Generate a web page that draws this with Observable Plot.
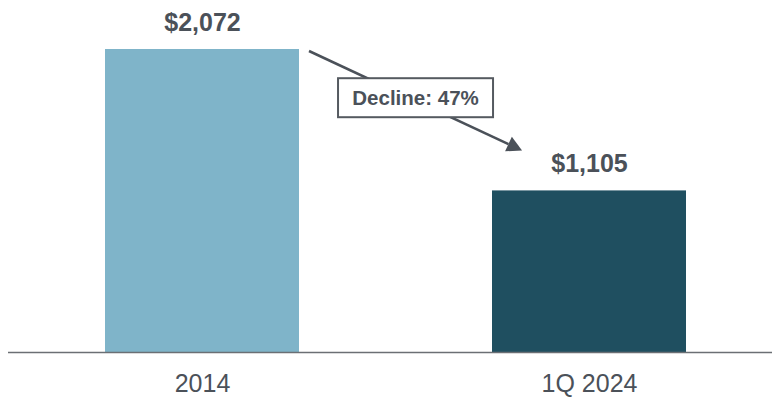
<!DOCTYPE html>
<html>
<head>
<meta charset="utf-8">
<script src="https://cdn.jsdelivr.net/npm/d3@7"></script>
<script src="https://cdn.jsdelivr.net/npm/@observablehq/plot@0.6"></script>
<style>
  html, body { margin: 0; padding: 0; background: #fff; }
  #chart svg { display: block; }
</style>
</head>
<body>
<div id="chart"></div>
<script>
const categories = ["2014", "1Q 2024"];
const values = [2072, 1105];
const valueLabels = ["$2,072", "$1,105"];
const barColors = ["#7fb4c9", "#1f4f60"];
const declineLabel = "Decline: 47%";

const data = categories.map((c, i) => ({category: c, value: values[i], label: valueLabels[i], color: barColors[i]}));

const textColor = "#4b5159";
const font = "'Liberation Sans', Arial, sans-serif";

function declineArrow(index, scales) {
  const desc = scales.scales && scales.scales.x;
  let bw = desc && typeof desc.bandwidth === "number" ? desc.bandwidth
         : (typeof scales.x.bandwidth === "function" ? scales.x.bandwidth() : scales.x.bandwidth);
  const x0 = scales.x(categories[0]);
  const x1 = scales.x(categories[1]);
  const xa = x0 + bw + 10;
  const ya = scales.y(values[0]) + 2;
  const xb = x1 + bw * 0.155;
  const yb = scales.y(values[1]) - 40;
  const g = d3.create("svg:g");
  const ang = Math.atan2(yb - ya, xb - xa);
  const headLen = 15, headW = 8;
  const bx = xb - headLen * Math.cos(ang), by = yb - headLen * Math.sin(ang);
  g.append("line")
    .attr("x1", xa).attr("y1", ya).attr("x2", bx).attr("y2", by)
    .attr("stroke", textColor).attr("stroke-width", 2.5);
  const px = -Math.sin(ang), py = Math.cos(ang);
  g.append("path")
    .attr("d", `M${xb},${yb}L${bx + px * headW},${by + py * headW}L${bx - px * headW},${by - py * headW}Z`)
    .attr("fill", textColor);
  const mx = (xa + xb) / 2, my = (ya + yb) / 2 - 3;
  const w = 155, h = 39;
  g.append("rect")
    .attr("x", mx - w / 2).attr("y", my - h / 2).attr("width", w).attr("height", h)
    .attr("fill", "#fff").attr("stroke", "#555a60").attr("stroke-width", 2);
  g.append("text")
    .attr("x", mx).attr("y", my).attr("dy", "0.36em")
    .attr("text-anchor", "middle")
    .attr("font-family", font).attr("font-weight", "bold").attr("font-size", 20.5)
    .attr("fill", textColor)
    .text(declineLabel);
  return g.node();
}

const chart = Plot.plot({
  width: 772,
  height: 400,
  marginLeft: 8,
  marginRight: 0,
  marginTop: 49,
  marginBottom: 48,
  style: {fontFamily: font, background: "#fff"},
  x: {domain: categories, range: [8, 782], paddingInner: 0.5, paddingOuter: 0.25, label: null},
  y: {domain: [0, values[0]], axis: null},
  marks: [
    Plot.barY(data, {x: "category", y: "value", fill: "color"}),
    Plot.ruleY([0], {stroke: "#6b6f74", strokeWidth: 1.5}),
    Plot.axisX({tickSize: 0, tickPadding: 22, fontSize: 25, color: textColor, label: null}),
    Plot.text(data, {x: "category", y: "value", text: "label", dy: -27, fontSize: 25, fontWeight: "bold", fill: textColor}),
    declineArrow
  ]
});
document.getElementById("chart").appendChild(chart);
</script>
</body>
</html>
